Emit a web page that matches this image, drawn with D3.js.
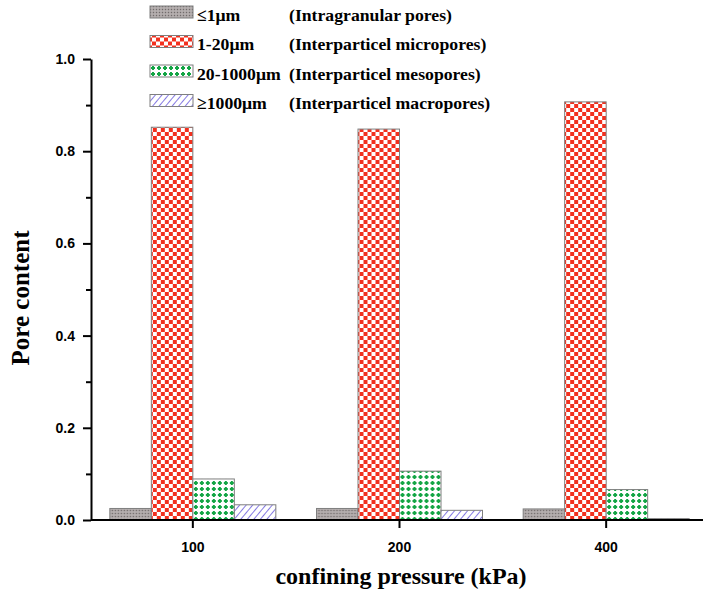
<!DOCTYPE html>
<html>
<head>
<meta charset="utf-8">
<script src="https://cdn.jsdelivr.net/npm/d3@7"></script>
<style>
  body { margin: 0; background: #fff; }
  svg { display: block; }
</style>
</head>
<body>
<svg id="chart" width="703" height="592"></svg>
<script>
const pressures = ["100", "200", "400"];
const seriesKeys = ["le1", "m1to20", "m20to1000", "ge1000"];
const seriesRanges = ["\u22641\u03bcm", "1-20\u03bcm", "20-1000\u03bcm", "\u22651000\u03bcm"];
const seriesNames = ["(Intragranular pores)", "(Interparticel micropores)", "(Interparticel mesopores)", "(Interparticel macropores)"];
const intragranular = [0.025, 0.025, 0.024];
const micropores = [0.852, 0.848, 0.907];
const mesopores = [0.089, 0.106, 0.066];
const macropores = [0.033, 0.021, 0.003];
const yTicks = [0.0, 0.2, 0.4, 0.6, 0.8, 1.0];

const values = [intragranular, micropores, mesopores, macropores];
const rows = pressures.map((p, i) => ({ p, vals: values.map(v => v[i]) }));

const serif = "Liberation Serif, 'Times New Roman', serif";
const sans = "Liberation Sans, Arial, sans-serif";

const svg = d3.select("#chart");
const defs = svg.append("defs");

// fill patterns
const pGray = defs.append("pattern").attr("id", "pat0")
  .attr("patternUnits", "userSpaceOnUse").attr("width", 3).attr("height", 3);
pGray.append("rect").attr("width", 3).attr("height", 3).attr("fill", "#a9a3a3");
pGray.append("rect").attr("width", 1).attr("height", 1).attr("fill", "#716b6b");
pGray.append("rect").attr("x", 1.5).attr("y", 1.5).attr("width", 1).attr("height", 1).attr("fill", "#d4d0d0");

const pRed = defs.append("pattern").attr("id", "pat1")
  .attr("patternUnits", "userSpaceOnUse").attr("width", 8).attr("height", 8);
pRed.append("rect").attr("width", 8).attr("height", 8).attr("fill", "#ffffff");
pRed.append("rect").attr("width", 4).attr("height", 4).attr("fill", "#f2301e");
pRed.append("rect").attr("x", 4).attr("y", 4).attr("width", 4).attr("height", 4).attr("fill", "#f2301e");

const pGreen = defs.append("pattern").attr("id", "pat2")
  .attr("patternUnits", "userSpaceOnUse").attr("width", 6).attr("height", 6);
pGreen.append("rect").attr("width", 6).attr("height", 6).attr("fill", "#ffffff");
pGreen.append("rect").attr("x", 1).attr("y", 2).attr("width", 4).attr("height", 2).attr("fill", "#13a545");
pGreen.append("rect").attr("x", 2).attr("y", 1).attr("width", 2).attr("height", 4).attr("fill", "#13a545");

const pBlue = defs.append("pattern").attr("id", "pat3")
  .attr("patternUnits", "userSpaceOnUse").attr("width", 5).attr("height", 5)
  .attr("patternTransform", "rotate(40)");
pBlue.append("rect").attr("width", 5).attr("height", 5).attr("fill", "#ffffff");
pBlue.append("line").attr("x1", 0).attr("y1", 0).attr("x2", 0).attr("y2", 5)
  .attr("stroke", "#6658dc").attr("stroke-width", 1.6);

const x0 = d3.scaleBand().domain(pressures).range([89.5, 709.5]);
const x1 = d3.scaleBand().domain(seriesKeys).range([-83, 83]);
const y = d3.scaleLinear().domain([0, 1]).range([520, 59]);

// bars
const groups = svg.append("g").selectAll("g")
  .data(rows)
  .join("g")
  .attr("transform", d => `translate(${x0(d.p) + x0.bandwidth() / 2},0)`);

groups.selectAll("rect")
  .data(d => d.vals.map((v, k) => ({ key: seriesKeys[k], k, v })))
  .join("rect")
  .attr("x", d => x1(d.key))
  .attr("y", d => y(d.v))
  .attr("width", x1.bandwidth())
  .attr("height", d => y(0) - y(d.v))
  .attr("fill", d => `url(#pat${d.k})`)
  .attr("stroke", "#7f7f7f")
  .attr("stroke-width", 1);

// y axis
const yAxis = svg.append("g").attr("transform", "translate(91,0)")
  .call(d3.axisLeft(y).tickValues(yTicks).tickFormat(d3.format(".1f")).tickSize(8).tickSizeOuter(0));
yAxis.select(".domain").attr("stroke", "#000").attr("stroke-width", 2);
yAxis.selectAll(".tick line").attr("stroke-width", 2);
yAxis.selectAll("text")
  .attr("font-family", sans)
  .attr("font-weight", "bold").attr("font-size", 14).attr("fill", "#000")
  .attr("x", -16);
svg.append("g").attr("transform", "translate(91,0)")
  .call(d3.axisLeft(y).tickValues(d3.range(0.1, 1, 0.2)).tickSize(5).tickFormat(""))
  .call(g => g.select(".domain").remove())
  .call(g => g.selectAll(".tick line").attr("stroke-width", 2));

// x axis
const xAxis = svg.append("g").attr("transform", `translate(0,${y(0)})`)
  .call(d3.axisBottom(x0).tickSize(8).tickSizeOuter(0));
xAxis.select(".domain").attr("d", "M91,0H703").attr("stroke", "#000").attr("stroke-width", 2);
xAxis.selectAll(".tick line").attr("stroke-width", 2);
xAxis.selectAll("text")
  .attr("font-family", sans)
  .attr("font-weight", "bold").attr("font-size", 14).attr("fill", "#000")
  .attr("y", 22);

// axis titles
svg.append("text")
  .attr("x", 401).attr("y", 584)
  .attr("text-anchor", "middle")
  .attr("font-family", serif)
  .attr("font-weight", "bold").attr("font-size", 24)
  .text("confining pressure (kPa)");

svg.append("text")
  .attr("transform", "translate(29,298) rotate(-90)")
  .attr("text-anchor", "middle")
  .attr("font-family", serif)
  .attr("font-weight", "bold").attr("font-size", 25)
  .text("Pore content");

// legend
const legend = svg.append("g").selectAll("g")
  .data(seriesKeys)
  .join("g")
  .attr("transform", (d, i) => `translate(0,${12 + i * 29.5})`);

legend.append("rect")
  .attr("x", 150).attr("y", -6).attr("width", 43).attr("height", 12)
  .attr("fill", (d, i) => `url(#pat${i})`)
  .attr("stroke", "#7f7f7f").attr("stroke-width", 1);

legend.append("text")
  .attr("x", 197).attr("y", 8.5)
  .attr("font-family", serif)
  .attr("font-weight", "bold").attr("font-size", 17.7)
  .text((d, i) => seriesRanges[i]);

legend.append("text")
  .attr("x", 289).attr("y", 8.5)
  .attr("font-family", serif)
  .attr("font-weight", "bold").attr("font-size", 17.7)
  .text((d, i) => seriesNames[i]);
</script>
</body>
</html>
